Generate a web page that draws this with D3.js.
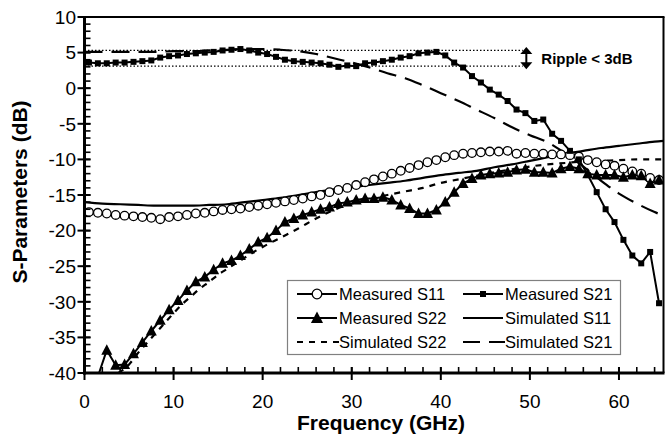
<!DOCTYPE html>
<html>
<head>
<meta charset="utf-8">
<script src="https://cdn.jsdelivr.net/npm/d3@7/dist/d3.min.js"></script>
<style>
  html, body { margin: 0; padding: 0; background: #fff; }
  svg { display: block; font-family: "Liberation Sans", Arial, Helvetica, sans-serif; }
</style>
</head>
<body>
<svg id="chart" width="665" height="436"></svg>
<script>
// ---------------- DATA ----------------
const freqMeas = [0.5,1.5,2.5,3.5,4.5,5.5,6.5,7.5,8.5,9.5,10.5,11.5,12.5,13.5,14.5,15.5,16.5,17.5,18.5,19.5,
  20.5,21.5,22.5,23.5,24.5,25.5,26.5,27.5,28.5,29.5,30.5,31.5,32.5,33.5,34.5,35.5,36.5,37.5,38.5,39.5,
  40.5,41.5,42.5,43.5,44.5,45.5,46.5,47.5,48.5,49.5,50.5,51.5,52.5,53.5,54.5,55.5,56.5,57.5,58.5,59.5,
  60.5,61.5,62.5,63.5,64.5];

const measS11 = [-17.4,-17.5,-17.6,-17.8,-17.9,-18.0,-18.1,-18.2,-18.4,-18.1,-18.0,-17.8,-17.6,-17.5,-17.3,-17.1,-17.0,-16.9,-16.7,-16.5,
  -16.3,-16.1,-15.9,-15.7,-15.5,-15.2,-15.0,-14.6,-14.3,-14.0,-13.6,-13.2,-12.8,-12.4,-12.0,-11.6,-11.2,-10.8,-10.4,-10.1,
  -9.7,-9.4,-9.2,-9.1,-9.0,-8.9,-8.9,-8.8,-9.2,-9.1,-9.2,-9.2,-9.3,-9.3,-9.4,-9.6,-10.1,-10.4,-10.7,-10.9,
  -11.3,-11.7,-12.0,-12.6,-12.9];

const measS21 = [3.6,3.5,3.5,3.6,3.6,3.7,3.8,3.9,4.3,4.5,4.6,4.8,4.9,5.0,5.1,5.3,5.4,5.5,5.3,5.0,
  4.8,4.4,4.0,3.8,3.7,3.6,3.5,3.3,3.0,3.2,3.1,3.5,3.6,3.8,4.0,4.3,4.5,4.9,5.0,5.1,
  4.6,3.6,2.9,1.7,0.8,-0.2,-0.9,-1.8,-3.0,-3.5,-4.6,-4.4,-6.4,-7.4,-8.8,-10.0,-12.2,-14.6,-17.0,-18.8,
  -21.3,-23.5,-24.6,-23.0,-30.2];

const measS22 = [null,-40.5,-36.8,-38.9,-38.8,-37.3,-35.7,-34.1,-32.6,-31.1,-29.8,-28.4,-27.2,-26.5,-25.5,-24.6,-24.2,-23.5,-22.6,-21.6,
  -21.0,-20.0,-18.8,-18.3,-17.8,-17.4,-17.0,-16.7,-16.2,-16.0,-15.7,-15.5,-15.5,-15.3,-15.7,-16.4,-16.9,-17.6,-17.6,-17.1,
  -16.0,-14.6,-13.4,-12.7,-12.2,-12.0,-11.9,-11.8,-11.5,-11.4,-11.8,-11.8,-11.9,-11.3,-11.0,-11.3,-12.0,-12.2,-12.2,-12.2,
  -12.5,-12.2,-12.3,-13.4,-12.9];

const freqSimS11 = [0,2,4,6,8,10,12,14,16,18,20,22,24,26,28,30,32,34,36,38,40,42,44,46,48,50,52,54,56,58,60,62,64,65];
const simS11 = [-16.0,-16.2,-16.3,-16.4,-16.5,-16.5,-16.5,-16.4,-16.3,-16.0,-15.7,-15.4,-15.0,-14.6,-14.2,-13.9,-13.6,-13.3,-13.0,-12.6,
  -12.2,-11.9,-11.6,-11.1,-10.7,-10.2,-9.7,-9.2,-8.8,-8.4,-8.1,-7.8,-7.5,-7.4];

const freqSimS22 = [3.8,5,6,7,8,9,10,11,12,13,14,15,16,17,18,19,20,22,24,26,28,30,32,34,36,38,40,42,44,46,48,50,52,54,56,58,60,62,65];
const simS22 = [-40.0,-38.8,-37.2,-35.8,-34.4,-33.0,-31.6,-30.3,-29.2,-28.1,-27.2,-26.2,-25.4,-24.6,-23.8,-23.0,-22.3,-21.0,-19.7,-18.3,
  -17.1,-16.2,-15.6,-15.0,-14.5,-14.0,-13.3,-12.8,-12.3,-11.8,-11.4,-11.0,-10.7,-10.5,-10.3,-10.2,-10.1,-10.0,-10.0];

const freqSimS21 = [0,2,4,6,8,10,12,14,16,18,20,22,24,26,28,30,32,34,36,38,40,42,44,46,48,50,52,54,56,58,60,62,64,65];
const simS21 = [5.1,5.1,5.1,5.1,5.1,5.2,5.2,5.3,5.4,5.5,5.5,5.4,5.2,4.8,4.2,3.6,2.9,2.1,1.4,0.4,
  -0.7,-1.8,-3.0,-4.2,-5.5,-6.6,-7.6,-9.2,-11.0,-13.0,-14.8,-16.2,-17.4,-17.9];

const rippleLevels = [5.3, 3.1];
const rippleEnd = 49.2;
const rippleArrowAt = 49.6;
const rippleText = "Ripple < 3dB";

const xTicks = [0,10,20,30,40,50,60];
const yTicks = [10,5,0,-5,-10,-15,-20,-25,-30,-35,-40];

const legendItems = [
  {name:"Measured S11", kind:"circle"},
  {name:"Measured S21", kind:"square"},
  {name:"Measured S22", kind:"triangle"},
  {name:"Simulated S11", kind:"solid"},
  {name:"Simulated S22", kind:"short"},
  {name:"Simulated S21", kind:"long"}
];

// ---------------- SETUP ----------------
const svg = d3.select("#chart");
const L = 84.5, R = 663.5, T = 17, B = 373;
const x = d3.scaleLinear().domain([0,65]).range([L, R]);
const y = d3.scaleLinear().domain([-40,10]).range([B, T]);

svg.append("defs").append("clipPath").attr("id","clip")
  .append("rect").attr("x",L).attr("y",T).attr("width",R-L).attr("height",B-T);

const plot = svg.append("g").attr("clip-path","url(#clip)");

// ripple dotted lines
rippleLevels.forEach(v => {
  plot.append("line")
    .attr("x1", x(0)).attr("x2", x(rippleEnd))
    .attr("y1", y(v)).attr("y2", y(v))
    .attr("stroke","#000").attr("stroke-width",1.3).attr("stroke-dasharray","1.5,2");
});

const lineGen = (xs, ys, curve) => d3.line()
  .defined((d,i) => ys[i] !== null)
  .x((d,i) => x(xs[i])).y((d,i) => y(ys[i]))
  .curve(curve || d3.curveLinear)(xs);

// simulated lines
plot.append("path").attr("d", lineGen(freqSimS11, simS11, d3.curveMonotoneX))
  .attr("fill","none").attr("stroke","#000").attr("stroke-width",2.2);
plot.append("path").attr("d", lineGen(freqSimS22, simS22, d3.curveMonotoneX))
  .attr("fill","none").attr("stroke","#000").attr("stroke-width",2.2).attr("stroke-dasharray","6,6");
plot.append("path").attr("d", lineGen(freqSimS21, simS21, d3.curveMonotoneX))
  .attr("fill","none").attr("stroke","#000").attr("stroke-width",2.2).attr("stroke-dasharray","18,9");

// measured lines
plot.append("path").attr("d", lineGen(freqMeas, measS11))
  .attr("fill","none").attr("stroke","#000").attr("stroke-width",1.8);
plot.append("path").attr("d", lineGen(freqMeas, measS21))
  .attr("fill","none").attr("stroke","#000").attr("stroke-width",2);
plot.append("path").attr("d", lineGen(freqMeas, measS22))
  .attr("fill","none").attr("stroke","#000").attr("stroke-width",2);

const triPath = (cx, cy, s) => `M${cx},${cy - s*0.6}L${cx + s*0.55},${cy + s*0.45}L${cx - s*0.55},${cy + s*0.45}Z`;

// markers
plot.selectAll("circle.m11").data(freqMeas).enter().append("circle")
  .attr("cx",(d)=>x(d)).attr("cy",(d,i)=>y(measS11[i])).attr("r",4.3)
  .attr("fill","#fff").attr("stroke","#000").attr("stroke-width",1.3);
plot.selectAll("path.m22").data(freqMeas.filter((d,i)=>measS22[i]!==null && i>1)).enter().append("path")
  .attr("d",(d)=>triPath(x(d), y(measS22[freqMeas.indexOf(d)]), 10))
  .attr("fill","#000");
plot.selectAll("rect.m21").data(freqMeas).enter().append("rect")
  .attr("x",(d)=>x(d)-3).attr("y",(d,i)=>y(measS21[i])-3).attr("width",6).attr("height",6)
  .attr("fill","#000");

// ---------------- AXES ----------------
// frame top/right
svg.append("line").attr("x1",L).attr("x2",R+1).attr("y1",T).attr("y2",T).attr("stroke","#000").attr("stroke-width",2.2);
svg.append("line").attr("x1",R).attr("x2",R).attr("y1",T).attr("y2",B).attr("stroke","#000").attr("stroke-width",2);

// minor ticks
const xMinor = d3.range(0, 66, 2);
svg.selectAll("line.xminor").data(xMinor).enter().append("line")
  .attr("x1",d=>x(d)).attr("x2",d=>x(d)).attr("y1",B).attr("y2",B-6)
  .attr("stroke","#000").attr("stroke-width",1.6);
const yMinor = d3.range(-40, 11, 1);
svg.selectAll("line.yminor").data(yMinor).enter().append("line")
  .attr("x1",L).attr("x2",L+6).attr("y1",d=>y(d)).attr("y2",d=>y(d))
  .attr("stroke","#000").attr("stroke-width",1.6);

// major ticks
svg.selectAll("line.xmajor").data(xTicks).enter().append("line")
  .attr("x1",d=>x(d)).attr("x2",d=>x(d)).attr("y1",B+7).attr("y2",B-6)
  .attr("stroke","#000").attr("stroke-width",2);
svg.selectAll("line.ymajor").data(yTicks).enter().append("line")
  .attr("x1",L-7).attr("x2",L+6).attr("y1",d=>y(d)).attr("y2",d=>y(d))
  .attr("stroke","#000").attr("stroke-width",2);

// axis lines
svg.append("line").attr("x1",L).attr("x2",L).attr("y1",T-1).attr("y2",B+1.5).attr("stroke","#000").attr("stroke-width",3);
svg.append("line").attr("x1",L-1.5).attr("x2",R+1).attr("y1",B).attr("y2",B).attr("stroke","#000").attr("stroke-width",3);

// tick labels
svg.selectAll("text.xl").data(xTicks).enter().append("text")
  .attr("x",d=>x(d)).attr("y",408).attr("text-anchor","middle")
  .attr("font-size",19).text(d=>d);
svg.selectAll("text.yl").data(yTicks).enter().append("text")
  .attr("x",76).attr("y",d=>y(d)).attr("dy","0.36em").attr("text-anchor","end")
  .attr("font-size",19).text(d=>d);

// axis titles
svg.append("text").attr("x",381).attr("y",430).attr("text-anchor","middle")
  .attr("font-size",21).attr("font-weight","bold").text("Frequency (GHz)");
svg.append("text").attr("transform","translate(27,192) rotate(-90)").attr("text-anchor","middle")
  .attr("font-size",21).attr("font-weight","bold").text("S-Parameters (dB)");

// ripple arrow & label
const ax = x(rippleArrowAt);
const yTop = y(rippleLevels[0]) - 3.5, yBot = y(rippleLevels[1]) + 3;
svg.append("line").attr("x1",ax).attr("x2",ax).attr("y1",yTop+5).attr("y2",yBot-5)
  .attr("stroke","#000").attr("stroke-width",2);
svg.append("path").attr("d",`M${ax-6},${yTop+7}L${ax+6},${yTop+7}L${ax},${yTop}Z`).attr("fill","#000");
svg.append("path").attr("d",`M${ax-6},${yBot-7}L${ax+6},${yBot-7}L${ax},${yBot}Z`).attr("fill","#000");
svg.append("text").attr("x",ax+15).attr("y",(yTop+yBot)/2+5.5)
  .attr("font-size",15).attr("font-weight","bold").text(rippleText);

// ---------------- LEGEND ----------------
const lg = svg.append("g");
lg.append("rect").attr("x",287.5).attr("y",280.5).attr("width",333).attr("height",74)
  .attr("fill","#fff").attr("stroke","#808080").attr("stroke-width",1.2);
const colX = [297, 463];
const rowY = [294, 318, 342];
legendItems.forEach((it, i) => {
  const cx = colX[i % 2], cy = rowY[Math.floor(i / 2)];
  const x1 = cx, x2 = cx + 40, mid = cx + 20;
  const ln = lg.append("line").attr("x1",x1).attr("x2",x2).attr("y1",cy).attr("y2",cy)
    .attr("stroke","#000").attr("stroke-width",2);
  if (it.kind === "short") ln.attr("stroke-dasharray","6,6").attr("x2", x2 + 2);
  if (it.kind === "long") ln.attr("stroke-dasharray","17,9").attr("x2", x2 + 2);
  if (it.kind === "circle") lg.append("circle").attr("cx",mid).attr("cy",cy).attr("r",4.8)
    .attr("fill","#fff").attr("stroke","#000").attr("stroke-width",1.3);
  if (it.kind === "square") lg.append("rect").attr("x",mid-3).attr("y",cy-3).attr("width",6).attr("height",6).attr("fill","#000");
  if (it.kind === "triangle") lg.append("path").attr("d",triPath(mid, cy, 11)).attr("fill","#000");
  lg.append("text").attr("x",cx + 42).attr("y",cy).attr("dy","0.36em")
    .attr("font-size",16.5).text(it.name);
});
</script>
</body>
</html>
